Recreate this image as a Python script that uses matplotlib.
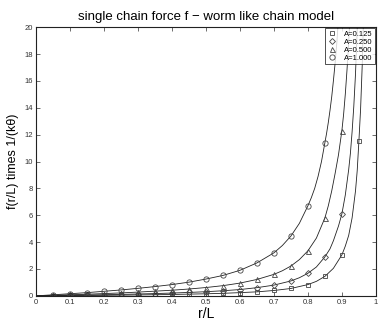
import numpy as np
import matplotlib
matplotlib.use('Agg')
import matplotlib.pyplot as plt

plt.rcParams['font.family'] = ['Liberation Sans', 'DejaVu Sans']

# marker positions (r/L) and values
x_mark = [0.05, 0.1, 0.15, 0.2, 0.25, 0.3, 0.35, 0.4, 0.45, 0.5,
          0.55, 0.6, 0.65, 0.7, 0.75, 0.8, 0.85, 0.9, 0.95]

sq_y = [0.01, 0.02, 0.03, 0.04, 0.055, 0.07, 0.085, 0.105, 0.13, 0.155,
        0.19, 0.24, 0.3, 0.4, 0.55, 0.84, 1.45, 3.05, 11.5]            # A=0.125
di_y = [0.02, 0.04, 0.06, 0.085, 0.11, 0.14, 0.17, 0.21, 0.255, 0.31,
        0.38, 0.47, 0.61, 0.8, 1.11, 1.68, 2.9, 6.1]                   # A=0.250
tr_y = [0.04, 0.08, 0.12, 0.17, 0.22, 0.28, 0.35, 0.42, 0.51, 0.62,
        0.76, 0.95, 1.22, 1.6, 2.22, 3.35, 5.8, 12.3]                  # A=0.500
ci_y = [0.08, 0.16, 0.24, 0.34, 0.44, 0.56, 0.69, 0.84, 1.02, 1.25,
        1.52, 1.9, 2.45, 3.2, 4.45, 6.7, 11.4]                         # A=1.000

# curve points (denser near the asymptote)
sq_lx = [0, 0.05, 0.1, 0.15, 0.2, 0.25, 0.3, 0.35, 0.4, 0.45, 0.5, 0.55, 0.6, 0.65,
         0.7, 0.75, 0.8, 0.825, 0.85, 0.875, 0.9, 0.91, 0.92, 0.93, 0.94, 0.945,
         0.95, 0.955, 0.96, 0.965]
sq_ly = [0, 0.01, 0.02, 0.03, 0.04, 0.055, 0.07, 0.085, 0.105, 0.13, 0.155, 0.19, 0.24, 0.3,
         0.4, 0.55, 0.84, 1.08, 1.45, 2.05, 3.05, 3.7, 4.5, 5.8, 7.8, 9.3,
         11.5, 13.9, 17.3, 22.0]
di_lx = [0, 0.05, 0.1, 0.15, 0.2, 0.25, 0.3, 0.35, 0.4, 0.45, 0.5, 0.55, 0.6, 0.65,
         0.7, 0.75, 0.775, 0.8, 0.825, 0.85, 0.865, 0.875, 0.89, 0.9, 0.91, 0.92, 0.925,
         0.93, 0.935, 0.94, 0.945, 0.95]
di_ly = [0, 0.02, 0.04, 0.06, 0.085, 0.11, 0.14, 0.17, 0.21, 0.255, 0.31, 0.38, 0.47, 0.61,
         0.8, 1.11, 1.35, 1.68, 2.15, 2.9, 3.5, 4.1, 5.2, 6.1, 7.5, 9.4, 10.6,
         12.2, 14.1, 16.5, 19.8, 23.8]
tr_lx = [0, 0.05, 0.1, 0.15, 0.2, 0.25, 0.3, 0.35, 0.4, 0.45, 0.5, 0.55, 0.6, 0.65,
         0.7, 0.725, 0.75, 0.775, 0.8, 0.825, 0.85, 0.86, 0.87, 0.88, 0.89, 0.9,
         0.905, 0.91, 0.915, 0.92, 0.925]
tr_ly = [0, 0.04, 0.08, 0.12, 0.17, 0.22, 0.28, 0.35, 0.42, 0.51, 0.62, 0.76, 0.95, 1.22,
         1.6, 1.87, 2.22, 2.7, 3.35, 4.3, 5.8, 6.7, 7.8, 9.1, 10.5, 12.3,
         13.5, 15.0, 16.8, 18.9, 21.4]
ci_lx = [0, 0.05, 0.1, 0.15, 0.2, 0.25, 0.3, 0.35, 0.4, 0.45, 0.5, 0.55, 0.6, 0.65,
         0.7, 0.725, 0.75, 0.775, 0.8, 0.81, 0.82, 0.83, 0.84, 0.85, 0.855, 0.86,
         0.865, 0.87, 0.875, 0.88, 0.885, 0.89]
ci_ly = [0, 0.08, 0.16, 0.24, 0.34, 0.44, 0.56, 0.69, 0.84, 1.02, 1.25, 1.52, 1.9, 2.45,
         3.2, 3.75, 4.45, 5.4, 6.7, 7.3, 8.0, 8.9, 10.0, 11.4, 12.1, 12.9,
         13.8, 14.8, 16.0, 17.3, 18.8, 20.6]

labels = ['A=0.125', 'A=0.250', 'A=0.500', 'A=1.000']
markers = ['s', 'D', '^', 'o']
msizes = [3.2, 3.0, 3.6, 3.8]

fig = plt.figure(figsize=(3.82, 3.23), dpi=100)
ax = fig.add_axes([0.094, 0.084, 0.890, 0.832])

series = [(sq_lx, sq_ly, sq_y), (di_lx, di_ly, di_y), (tr_lx, tr_ly, tr_y), (ci_lx, ci_ly, ci_y)]
for (lx, ly, my), lab, mk, ms in zip(series, labels, markers, msizes):
    ax.plot(lx, ly, color='#222222', lw=0.6)
    ax.plot(x_mark[:len(my)], my, linestyle='none', marker=mk, ms=ms, mfc='none',
            mec='#444444', mew=0.6, label=lab)

ax.set_xlim(0, 1)
ax.set_ylim(0, 20)
ax.set_xticks(np.arange(0, 1.01, 0.1))
ax.set_xticklabels(['0', '0.1', '0.2', '0.3', '0.4', '0.5', '0.6', '0.7', '0.8', '0.9', '1'])
ax.set_yticks(range(0, 21, 2))
ax.tick_params(direction='in', top=True, right=True, length=3, width=0.6,
               labelsize=5.5, pad=2, colors='#555555', labelcolor='#333333')
for s in ax.spines.values():
    s.set_linewidth(0.8)
    s.set_color('#222222')

ax.set_title('single chain force f \u2212 worm like chain model', fontsize=9.5, pad=5)
ax.set_xlabel('r/L', fontsize=10, labelpad=1)
ax.set_ylabel('f(r/L) times 1/(k\u03b8)', fontsize=9, labelpad=4)

leg = ax.legend(loc='upper right', fontsize=5.5, frameon=True, fancybox=False,
                edgecolor='black', borderpad=0.25, labelspacing=0.1,
                handlelength=1.5, handletextpad=0.8, borderaxespad=0.15)
leg.get_frame().set_linewidth(0.6)

fig.savefig('out.png', dpi=100)
